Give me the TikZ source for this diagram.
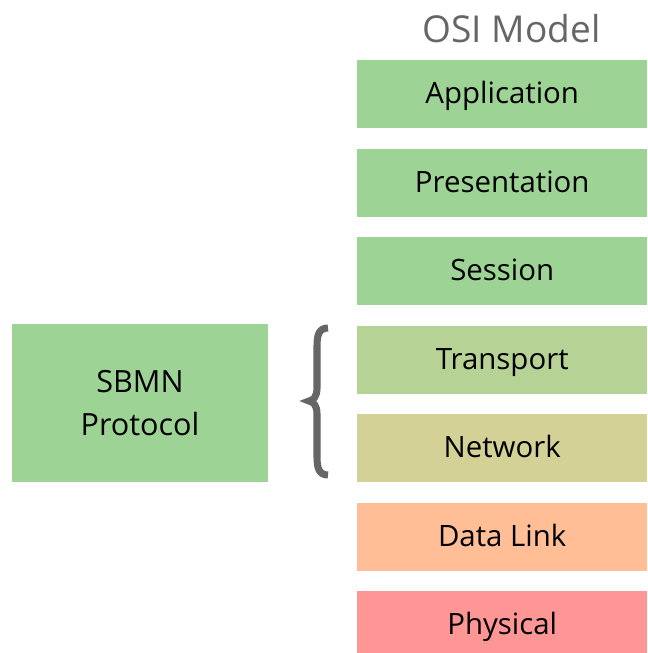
\documentclass[tikz,border=0pt]{standalone}
\usepackage{fontspec}
\setmainfont{Open Sans}
\usetikzlibrary{positioning}

\definecolor{uppergreen}{RGB}{157,211,148}
\definecolor{transgreen}{RGB}{182,211,149}
\definecolor{netolive}{RGB}{211,209,150}
\definecolor{linkorange}{RGB}{255,190,150}
\definecolor{physred}{RGB}{255,150,150}
\definecolor{titlegray}{RGB}{102,102,102}

\tikzset{
    layer/.style={minimum width=246.5pt, minimum height=57.8pt, inner sep=0pt,
        text height=18pt, text depth=2pt, font=\fontsize{25}{30}\selectfont},
}

\begin{document}
\begin{tikzpicture}[x=0.85pt, y=-0.85pt]
        \useasboundingbox (0,0) rectangle (647,653);

        % OSI stack
        \node[font=\fontsize{31.5}{36}\selectfont, text=titlegray] (title) at (511.5,28.5) {OSI Model};
        \node[layer, fill=uppergreen, anchor=north west] (app) at (357,60) {Application};
        \node[layer, fill=uppergreen, below=17pt of app] (pres) {Presentation};
        \node[layer, fill=uppergreen, below=17pt of pres] (sess) {Session};
        \node[layer, fill=transgreen, below=17pt of sess] (trans) {Transport};
        \node[layer, fill=netolive, below=17pt of trans] (net) {Network};
        \node[layer, fill=linkorange, below=17pt of net] (link) {Data Link};
        \node[layer, fill=physred, below=17pt of link] (phys) {Physical};

        % SBMN box
        \node[fill=uppergreen, minimum width=217.6pt, minimum height=134.3pt, inner sep=0pt,
            align=center, font=\fontsize{26}{36.5}\selectfont] (sbmn) at (140,403) {SBMN\\Protocol};

        % brace over transport + network
        \draw[line width=6pt, titlegray] (328,328) .. controls (319,328) and (317,335) .. (317,346)
            -- (317,388) .. controls (317,396) and (314,400) .. (309,401)
            .. controls (314,402) and (317,406) .. (317,414)
            -- (317,457) .. controls (317,468) and (319,475) .. (328,475);
\end{tikzpicture}
\end{document}
